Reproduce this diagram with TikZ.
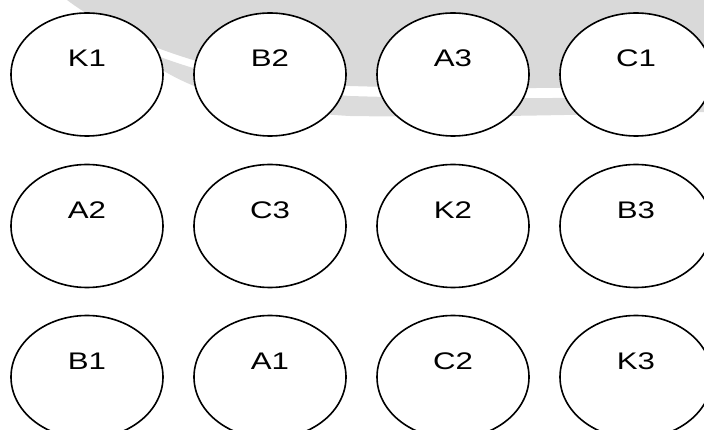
\documentclass[tikz,border=0pt]{standalone}
\usepackage{fontspec}
\usepackage{graphicx}
\setmainfont{Liberation Sans}
\usetikzlibrary{shapes.geometric}
\definecolor{wmgray}{RGB}{217,217,217}
\definecolor{wmband}{RGB}{220,220,220}
\tikzset{
  ell/.style={ellipse, draw=black, line width=1.6pt, fill=white,
    minimum width=152pt, minimum height=123pt, inner sep=0pt,
    label={[lbl]center:\scalebox{1.3}[1]{#1}}},
  lbl/.style={yshift=16pt, inner sep=0pt, font=\fontsize{24}{28}\selectfont}
}
\begin{document}
\begin{tikzpicture}[x=1pt,y=-1pt]
\useasboundingbox (0,0) rectangle (704,430);
\clip (0,0) rectangle (704,430);
% watermark shapes
\fill[wmgray] (0,0) -- (67,0) .. controls (120,40) and (220,80) .. (350,86)
  .. controls (480,90) and (600,88) .. (704,84) -- (704,0) -- cycle;
\fill[wmband] (130,45) .. controls (170,62) and (240,88) .. (350,96)
  .. controls (480,100) and (600,98) .. (704,95) -- (704,112)
  .. controls (600,114) and (480,118) .. (350,116)
  .. controls (240,110) and (170,85) .. (130,45) -- cycle;
% ellipses
\node[ell=K1] (k1) at (87,74.5) {};
\node[ell=B2] (b2) at (270,74.5) {};
\node[ell=A3] (a3) at (453,74.5) {};
\node[ell=C1] (c1) at (636,74.5) {};
\node[ell=A2] (a2) at (87,226) {};
\node[ell=C3] (c3) at (270,226) {};
\node[ell=K2] (k2) at (453,226) {};
\node[ell=B3] (b3) at (636,226) {};
\node[ell=B1] (b1) at (87,377) {};
\node[ell=A1] (a1) at (270,377) {};
\node[ell=C2] (c2) at (453,377) {};
\node[ell=K3] (k3) at (636,377) {};
\end{tikzpicture}
\end{document}
